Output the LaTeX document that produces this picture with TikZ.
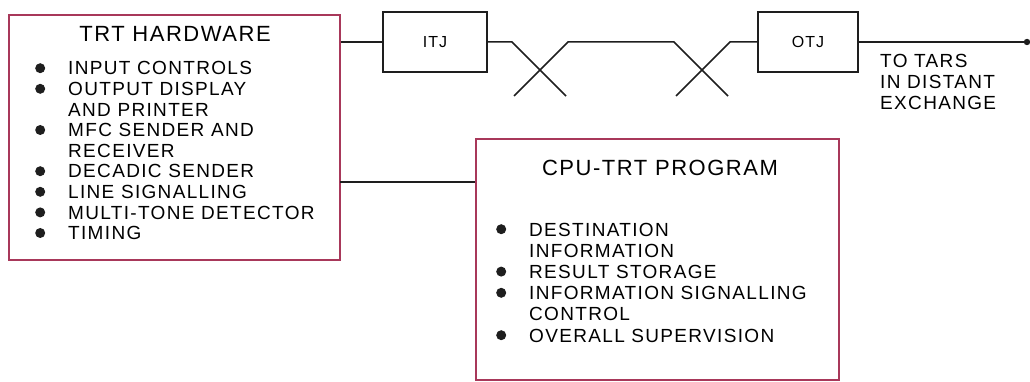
\documentclass[tikz,border=0pt]{standalone}
\usepackage{fontspec}
\setmainfont{Liberation Sans}[LetterSpace=7]
\usetikzlibrary{calc}
\definecolor{TRTFrame}{HTML}{A8385A}
\definecolor{TRTInk}{HTML}{1E1E1E}
\newcommand{\blt}{\makebox[33pt][l]{\tikz[baseline=-6.8pt]\fill[TRTInk] (5pt,0pt) circle (5pt);}}

\begin{document}
\begin{tikzpicture}[
    x=1pt, y=-1pt,
    frame/.style={
      draw=TRTFrame,
      line width=1.6pt,
      inner sep=0pt,
      minimum width=#1
    },
    junc/.style={
      draw=TRTInk,
      line width=1.5pt,
      inner sep=0pt,
      minimum width=#1,
      minimum height=60pt,
      font=\fontsize{16}{18}\selectfont
    },
    title/.style={font=\fontsize{22}{24}\selectfont, inner sep=0pt, anchor=base},
    list/.style={font=\fontsize{19}{#1}\selectfont, inner sep=0pt, anchor=base west},
    wire/.style={draw=TRTInk, line width=1.5pt}
  ]
  \useasboundingbox (0,0) rectangle (1030,382);

  % Boxes
  \node[frame=331pt, minimum height=245pt] (hw)  at (174.5,137.5) {};
  \node[frame=363pt, minimum height=241pt] (cpu) at (657.5,259.5) {};
  \node[junc=104pt] (itj) at (435,42) {ITJ};
  \node[junc=100pt] (otj) at (808,42) {OTJ};

  % Box contents
  \node[title] (hwtitle)  at (175,42)  {TRT HARDWARE};
  \node[title] (cputitle) at (660,176) {CPU-TRT PROGRAM};
  \node[list=20.6] (hwlist) at (35,75) {%
    \begin{tabular}[t]{@{}l@{}l@{}}
      \blt & INPUT CONTROLS\\
      \blt & OUTPUT DISPLAY\\
           & AND PRINTER\\
      \blt & MFC SENDER AND\\
           & RECEIVER\\
      \blt & DECADIC SENDER\\
      \blt & LINE SIGNALLING\\
      \blt & MULTI-TONE DETECTOR\\
      \blt & TIMING
    \end{tabular}};
  \node[list=21.2] (cpulist) at (496,236) {%
    \begin{tabular}[t]{@{}l@{}l@{}}
      \blt & DESTINATION\\
           & INFORMATION\\
      \blt & RESULT STORAGE\\
      \blt & INFORMATION SIGNALLING\\
           & CONTROL\\
      \blt & OVERALL SUPERVISION
    \end{tabular}};
  \node[list=21] (dest) at (880,68) {%
    \begin{tabular}[t]{@{}l@{}}
      TO TARS\\
      IN DISTANT\\
      EXCHANGE
    \end{tabular}};

  % Wiring
  \coordinate (hwtap) at (340,182);
  \coordinate (cx1) at (540,70);
  \coordinate (cx2) at (702,70);
  \coordinate (far) at (1027,42);

  \draw[wire] (itj.west -| hw.east) -- (itj.west);
  \draw[wire] (hwtap) -- (hwtap -| cpu.west);
  \draw[wire] (itj.east) -- ($(cx1)+(-28,-28)$) -- ($(cx1)+(26,26)$);
  \draw[wire] ($(cx1)+(-26,26)$) -- ($(cx1)+(28,-28)$)
    -- ($(cx2)+(-28,-28)$) -- ($(cx2)+(26,26)$);
  \draw[wire] ($(cx2)+(-26,26)$) -- ($(cx2)+(28,-28)$) -- (otj.west);
  \draw[wire] (otj.east) -- (far);
  \fill[TRTInk] (far) circle (3.2pt);

\end{tikzpicture}
\end{document}
